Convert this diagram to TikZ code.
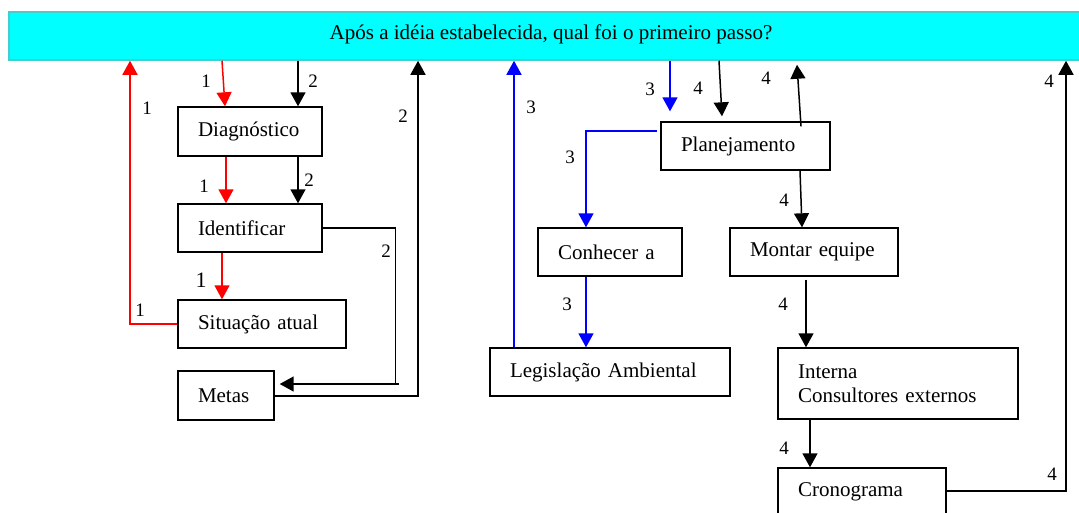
\documentclass[tikz,border=0pt]{standalone}
\usepackage{fontspec}
\setmainfont{Liberation Serif}
\usetikzlibrary{arrows.meta,calc}
\definecolor{bannerfill}{RGB}{0,255,255}
\definecolor{bannerline}{RGB}{70,205,205}
\begin{document}
\begin{tikzpicture}[x=1pt,y=-1pt,
  every node/.style={font=\fontsize{21}{24}\selectfont},
  stepbox/.style={draw=black,line width=1.4pt,inner xsep=20pt,inner ysep=0pt,
    align=left,anchor=center},
  banner/.style={fill=bannerfill,draw=bannerline,line width=1.5pt,
    minimum height=48pt,inner sep=0pt},
  tag/.style={font=\fontsize{19}{22}\selectfont,inner sep=0pt},
  tip/.style={-{Triangle[length=14pt,width=15pt]}},
  link/.style={line width=1.5pt,tip},
  rl/.style={link,draw=red},
  bl/.style={link,draw=blue},
  kl/.style={link,draw=black}]
\useasboundingbox (0,0) rectangle (1079,512);

% question banner
\node[banner,minimum width=1084pt] (top) at (551,36) {};
\node[inner sep=0pt] (q) at (551,34.5) {Após a idéia estabelecida, qual foi o primeiro passo?};

% steps
\node[stepbox,text width=104pt,minimum height=49pt] (diag) at (250,131.5) {Diagnóstico};
\node[stepbox,text width=104pt,minimum height=48pt] (ident) at (250,228) {Identificar};
\node[stepbox,text width=128pt,minimum height=48pt] (sit) at (262,324) {Situação atual};
\node[stepbox,text width=56pt,minimum height=49pt] (metas) at (226,395.5) {Metas};
\node[stepbox,text width=104pt,minimum height=48pt] (conh) at (610,252) {Conhecer a};
\node[stepbox,text width=200pt,minimum height=48pt] (legis) at (610,372) {Legislação Ambiental};
\node[stepbox,text width=129pt,minimum height=48pt] (plan) at (745.5,146) {Planejamento};
\node[stepbox,text width=128pt,minimum height=48pt] (mont) at (814,252) {Montar equipe};
\node[stepbox,text width=200pt,minimum height=71pt] (intern) at (898,383.5) {Interna\\Consultores externos};
\node[stepbox,text width=128pt,minimum height=48pt] (crono) at (862,492) {Cronograma};

% path 1 (red)
\draw[rl] ($(diag.north |- top.south)+(-28,0)$) -- ($(diag.north)+(-25,0)$);
\draw[rl] ($(diag.south)+(-24,0)$) -- ($(ident.north)+(-24,0)$);
\draw[rl] ($(ident.south)+(-28,0)$) -- ($(sit.north)+(-40,0)$);
\draw[rl] (sit.west) -| ($(top.south)+(-421,0)$);
\node[tag] (t1a) at (206,81) {1};
\node[tag] (t1b) at (204,186) {1};
\node[tag,font=\fontsize{22}{24}\selectfont] (t1c) at (201,280) {1};
\node[tag] (t1d) at (147,108) {1};
\node[tag] (t1e) at (140,310) {1};

% path 2 (black)
\draw[kl] ($(diag.north |- top.south)+(48,0)$) -- ($(diag.north)+(48,0)$);
\draw[kl] ($(diag.south)+(48,0)$) -- ($(ident.north)+(48,0)$);
\draw[kl] (ident.east) -| ($(metas.east)+(121,-11.5)$) -- ($(metas.east)+(5,-11.5)$);
\draw[line width=1.5pt] ($(metas.east)+(121,-11.5)$) -- ++(3,0);
\draw[kl] ($(metas.east)+(0,0.5)$) -| ($(top.south)+(-133,0)$);
\node[tag] (t2a) at (313,81) {2};
\node[tag] (t2b) at (309,180) {2};
\node[tag] (t2c) at (386,251) {2};
\node[tag] (t2d) at (403,116) {2};

% path 3 (blue)
\coordinate (b1) at ($(legis.north)+(-96,0)$);
\draw[bl] (b1) -- (b1 |- top.south);
\draw[bl] ($(plan.north |- top.south)+(-75.5,0)$) -- ($(plan.north)+(-75.5,-10)$);
\draw[bl] ($(plan.west)+(-3,-15)$) -| ($(conh.north)+(-24,0)$);
\draw[bl] ($(conh.south)+(-24,0)$) -- ($(legis.north)+(-24,0)$);
\node[tag] (t3a) at (531,107) {3};
\node[tag] (t3b) at (650,89) {3};
\node[tag] (t3c) at (570,157) {3};
\node[tag] (t3d) at (567,304) {3};

% path 4 (black)
\draw[kl] ($(plan.north |- top.south)+(-26.5,0)$) -- ($(plan.north)+(-23.5,-5)$);
\draw[kl] ($(plan.north)+(55.5,5)$) -- ($(plan.north |- top.south)+(51.5,4)$);
\draw[kl] ($(plan.south)+(54.5,0)$) -- ($(mont.north)+(-12,0)$);
\draw[kl] ($(mont.south)+(-8,3)$) -- ($(intern.north)+(-92,0)$);
\draw[kl] ($(intern.south)+(-88,0)$) -- ($(crono.north)+(-52,0)$);
\draw[kl] ($(crono.east)+(0,-1)$) -| ($(top.south)+(515,0)$);
\node[tag] (t4a) at (698,88) {4};
\node[tag] (t4b) at (766,78) {4};
\node[tag] (t4c) at (784,200) {4};
\node[tag] (t4d) at (783,304) {4};
\node[tag] (t4e) at (784,448) {4};
\node[tag] (t4f) at (1052,474) {4};
\node[tag] (t4g) at (1049,81) {4};
\end{tikzpicture}
\end{document}
